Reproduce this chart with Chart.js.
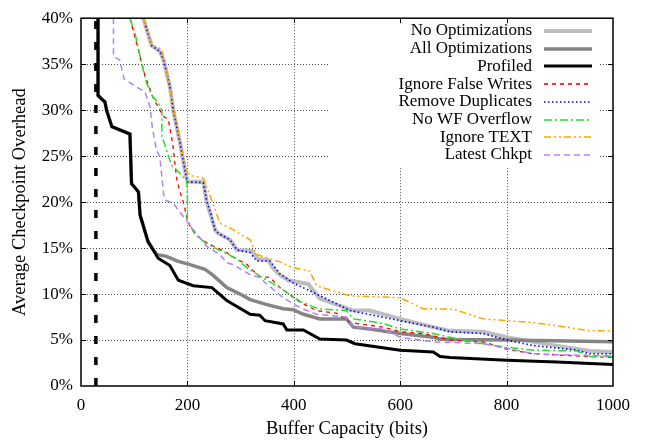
<!DOCTYPE html>
<html>
<head>
<meta charset="utf-8">
<script src="https://cdn.jsdelivr.net/npm/chart.js@4/dist/chart.umd.min.js"></script>
<style>
  html, body { margin: 0; padding: 0; background: #fff; }
  #wrap { width: 646px; height: 440px; }
</style>
</head>
<body>
<div id="wrap"><canvas id="chart"></canvas></div>
<script>
// axis ticks
const xTicks = [0, 200, 400, 600, 800, 1000];
const yTicks = [0, 5, 10, 15, 20, 25, 30, 35, 40];

// series, [buffer bits, overhead %]
const noOptimizations = [[117,40],[133,37],[148,36.4],[155,35.5],[167,32.6],[174,29.8],[186,26.5],[196,23.3],[200,22.2],[230,22.2],[236,20.1],[252,17.0],[258,16.6],[280,15.9],[293,14.8],[321,14.7],[333,13.8],[352,13.7],[360,12.9],[371,12.2],[390,11.5],[427,11.1],[449,9.5],[512,8.2],[543,8.2],[600,7.3],[662,6.4],[694,6.0],[756,5.9],[800,5.3],[850,4.8],[913,4.2],[957,3.8],[1000,3.7]];
const allOptimizations = [[32,40],[32,31.6],[39,31.2],[45,30.9],[48,30.0],[58,28.2],[92,27.4],[95,22.0],[101,21.6],[108,21.1],[111,18.6],[126,15.7],[142,14.3],[161,14.1],[180,13.6],[205,13.2],[233,12.7],[249,12.0],[274,10.7],[299,10.0],[318,9.4],[346,8.9],[380,8.4],[399,8.3],[418,7.8],[449,7.3],[499,7.3],[512,6.4],[543,6.2],[600,5.7],[662,5.3],[675,5.1],[694,5.05],[800,5.0],[1000,4.8]];
const profiled = [[32,40],[32,31.6],[39,31.2],[45,30.9],[48,30.0],[58,28.2],[92,27.4],[95,22.0],[101,21.6],[108,21.1],[111,18.6],[126,15.7],[145,13.9],[167,13.1],[183,11.5],[211,10.9],[246,10.7],[274,9.3],[318,7.8],[336,7.7],[346,7.1],[380,6.75],[387,6.1],[418,6.1],[449,5.1],[499,5.0],[515,4.6],[600,3.9],[662,3.7],[675,3.2],[694,3.1],[800,2.8],[894,2.6],[1000,2.35]];
const ignoreFalseWrites = [[92,40],[108,36.5],[120,33.8],[136,31.3],[155,29.3],[164,29.0],[172,26.5],[180,22.5],[186,21.1],[192,20.1],[199,18.3],[205,17.4],[214,16.6],[227,15.9],[249,15.2],[268,14.7],[290,13.9],[312,13.2],[324,12.5],[336,11.9],[355,11.8],[374,10.7],[412,9.1],[443,8.2],[481,7.9],[506,6.9],[568,6.4],[600,5.9],[643,5.7],[694,5.0],[756,4.8],[800,4.0],[850,3.5],[957,3.2],[1000,3.1]];
const removeDuplicates = [[117,40],[133,37],[148,36.4],[155,35.5],[167,32.6],[174,29.8],[186,26.5],[196,23.3],[200,22.2],[230,22.1],[236,20.2],[246,18.3],[252,17.0],[258,16.6],[280,15.9],[293,14.8],[318,14.5],[330,13.6],[355,13.6],[374,12.2],[399,11.2],[443,10.0],[506,8.2],[600,7.1],[662,6.4],[694,5.9],[756,5.7],[800,5.0],[850,4.4],[932,3.9],[957,3.5],[1000,3.5]];
const noWfOverflow = [[92,40],[101,38.5],[114,35.1],[123,33.0],[133,31.6],[145,30.8],[152,30.0],[152,27.2],[161,25.6],[170,24.0],[180,23.5],[199,22.3],[200,20.4],[200,18.1],[205,17.5],[214,16.5],[233,15.6],[252,15.0],[271,14.5],[293,13.8],[311,12.9],[330,12.2],[340,11.8],[374,10.7],[412,9.2],[446,8.4],[499,8.2],[512,7.3],[568,6.8],[600,6.2],[662,5.7],[694,5.3],[756,4.6],[800,4.2],[850,3.9],[932,3.8],[957,3.2],[1000,3.2]];
const ignoreText = [[117,40],[133,37.2],[152,36.6],[177,29.4],[199,23.3],[205,22.9],[230,22.6],[249,19.7],[261,17.7],[286,17.0],[305,16.3],[318,15.9],[330,14.3],[374,13.5],[393,13.0],[412,12.7],[430,12.5],[443,10.9],[474,10.35],[506,9.8],[600,9.6],[643,8.4],[700,8.35],[756,7.3],[800,7.1],[850,6.9],[913,6.4],[957,6.0],[1000,6.0]];
const latestChkpt = [[61,40],[61,35.9],[73,35.4],[81,33.4],[102,32.6],[120,32.0],[130,30.3],[134,28.1],[142,25.6],[148,25.0],[155,21.0],[158,20.2],[173,19.9],[199,17.9],[218,16.5],[236,15.2],[261,14.3],[274,13.4],[286,13.2],[318,12.1],[336,11.8],[349,11.1],[380,9.6],[412,8.5],[443,7.8],[499,7.5],[512,6.4],[568,6.2],[600,5.3],[662,4.8],[694,4.75],[756,4.6],[800,4.1],[850,3.5],[957,3.3],[1000,3.3]];
const lowerBound = [[28,0],[28,40]];

const FONT = 'Liberation Serif, Times New Roman, serif';
const FONT_SIZE = 17;
const TITLE_SIZE = 18.5;

const toXY = arr => arr.map(p => ({ x: p[0], y: p[1] }));

function series(label, data, color, width, dash, inLegend = true) {
    return {
        label: label,
        data: toXY(data),
        borderColor: color,
        backgroundColor: color,
        borderWidth: width,
        borderDash: dash,
        showLine: true,
        pointRadius: 0,
        pointHoverRadius: 0,
        tension: 0,
        fill: false,
        inLegend: inLegend
    };
}

const datasets = [
    series('No Optimizations', noOptimizations, '#bdbdbd', 4, []),
    series('All Optimizations', allOptimizations, '#858585', 3.5, []),
    series('Profiled', profiled, '#000000', 3, []),
    series('Ignore False Writes', ignoreFalseWrites, '#ff0000', 1.3, [4, 4]),
    series('Remove Duplicates', removeDuplicates, '#0000ff', 1.6, [1.5, 2.5]),
    series('No WF Overflow', noWfOverflow, '#22e022', 1.5, [8, 3, 2, 3]),
    series('Ignore TEXT', ignoreText, '#ffa500', 1.5, [7, 3, 2, 3, 2, 3]),
    series('Latest Chkpt', latestChkpt, '#b080ff', 1.5, [6, 4]),
    series('', lowerBound, '#000000', 3.5, [8, 13], false)
];
// gnuplot draws in plot order: later series on top
datasets.forEach((d, i) => d.order = -i);

// grid (dotted), frame, inward ticks on all sides, opaque key
const gnuplotLook = {
    id: 'gnuplotLook',
    beforeDatasetsDraw(chart) {
        const { ctx, chartArea: a, scales: { x, y } } = chart;
        ctx.save();
        ctx.strokeStyle = 'rgba(0,0,0,0.7)';
        ctx.lineWidth = 1;
        ctx.setLineDash([1, 2]);
        xTicks.slice(1, -1).forEach(v => {
            const px = Math.round(x.getPixelForValue(v)) + 0.5;
            ctx.beginPath(); ctx.moveTo(px, a.top); ctx.lineTo(px, a.bottom); ctx.stroke();
        });
        yTicks.slice(1, -1).forEach(v => {
            const py = Math.round(y.getPixelForValue(v)) + 0.5;
            ctx.beginPath(); ctx.moveTo(a.left, py); ctx.lineTo(a.right, py); ctx.stroke();
        });
        ctx.restore();
    },
    afterDraw(chart) {
        const { ctx, chartArea: a, scales: { x, y } } = chart;
        ctx.save();
        // key box
        ctx.fillStyle = '#fff';
        ctx.fillRect(330, a.top + 1, 270, 148);

        ctx.font = FONT_SIZE + 'px ' + FONT;
        ctx.textAlign = 'right';
        ctx.textBaseline = 'middle';
        let row = 0;
        chart.data.datasets.forEach(d => {
            if (!d.inLegend) return;
            const cy = 31 + row * 17.7;
            ctx.fillStyle = '#000';
            ctx.fillText(d.label, 532, cy);
            ctx.strokeStyle = d.borderColor;
            ctx.lineWidth = Math.max(d.borderWidth, 1.6);
            ctx.setLineDash(d.borderDash);
            ctx.beginPath();
            ctx.moveTo(544, Math.round(cy));
            ctx.lineTo(592, Math.round(cy));
            ctx.stroke();
            row++;
        });

        // ticks
        ctx.setLineDash([]);
        ctx.strokeStyle = '#000';
        ctx.lineWidth = 1;
        const t = 5;
        xTicks.slice(1, -1).forEach(v => {
            const px = Math.round(x.getPixelForValue(v)) + 0.5;
            ctx.beginPath();
            ctx.moveTo(px, a.bottom); ctx.lineTo(px, a.bottom - t);
            ctx.moveTo(px, a.top); ctx.lineTo(px, a.top + t);
            ctx.stroke();
        });
        yTicks.slice(1, -1).forEach(v => {
            const py = Math.round(y.getPixelForValue(v)) + 0.5;
            ctx.beginPath();
            ctx.moveTo(a.left, py); ctx.lineTo(a.left + t, py);
            ctx.moveTo(a.right, py); ctx.lineTo(a.right - t, py);
            ctx.stroke();
        });

        // frame
        ctx.lineWidth = 1.5;
        ctx.strokeRect(a.left, a.top, a.right - a.left, a.bottom - a.top);
        ctx.restore();
    }
};

const ctx = document.getElementById('chart').getContext('2d');
new Chart(ctx, {
    type: 'scatter',
    data: { datasets: datasets },
    options: {
        responsive: true,
        maintainAspectRatio: false,
        animation: false,
        events: [],
        layout: { padding: { top: 15, right: 33, bottom: 0, left: 0 } },
        plugins: {
            legend: { display: false },
            tooltip: { enabled: false }
        },
        scales: {
            x: {
                type: 'linear',
                min: 0,
                max: 1000,
                afterBuildTicks: s => { s.ticks = xTicks.map(v => ({ value: v })); },
                afterFit: s => { s.height = 54; },
                grid: { display: false, drawTicks: false },
                border: { display: false },
                ticks: {
                    color: '#000',
                    padding: 9,
                    maxRotation: 0,
                    callback: v => String(v),
                    font: { family: FONT, size: FONT_SIZE }
                },
                title: {
                    display: true,
                    text: 'Buffer Capacity (bits)',
                    color: '#000',
                    padding: { top: 0, bottom: 0 },
                    font: { family: FONT, size: TITLE_SIZE }
                }
            },
            y: {
                type: 'linear',
                min: 0,
                max: 40,
                afterBuildTicks: s => { s.ticks = yTicks.map(v => ({ value: v })); },
                afterFit: s => { s.width = 81; },
                grid: { display: false, drawTicks: false },
                border: { display: false },
                ticks: {
                    color: '#000',
                    padding: 8,
                    callback: v => v + '%',
                    font: { family: FONT, size: FONT_SIZE }
                },
                title: {
                    display: true,
                    text: 'Average Checkpoint Overhead',
                    color: '#000',
                    padding: { top: 9, bottom: 0 },
                    font: { family: FONT, size: TITLE_SIZE }
                }
            }
        }
    },
    plugins: [gnuplotLook]
});
</script>
</body>
</html>
